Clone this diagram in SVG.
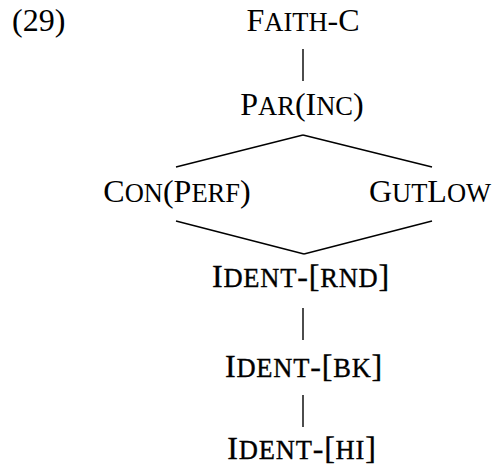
<svg xmlns="http://www.w3.org/2000/svg" width="496" height="468" viewBox="0 0 496 468">
<style>
text{font-family:"Liberation Serif","Times New Roman",serif;font-size:32px;fill:#000}
.c{text-anchor:middle}
.sc{font-size:26.5px}
.id{stroke:#000;stroke-width:0.35;letter-spacing:0.8px}
#edges line{stroke:#000;stroke-width:1.4;fill:none}
</style>
<rect width="496" height="468" fill="#fff"/>
<text x="12" y="31">(29)</text>
<g id="edges">
<line x1="303" y1="49" x2="303" y2="81"/>
<line x1="176" y1="167" x2="303" y2="135"/>
<line x1="303" y1="135" x2="432" y2="167"/>
<line x1="176" y1="221" x2="304" y2="254"/>
<line x1="304" y1="254" x2="432" y2="221"/>
<line x1="303" y1="308" x2="303" y2="340"/>
<line x1="303" y1="395" x2="303" y2="427"/>
</g>
<g id="faith-c"><text class="c" x="303" y="31">F<tspan class="sc">AITH</tspan>-C</text></g>
<g id="par-inc"><text class="c" x="302" y="115">P<tspan class="sc">AR</tspan>(I<tspan class="sc">NC</tspan>)</text></g>
<g id="con-perf"><text class="c" x="177" y="202">C<tspan class="sc">ON</tspan>(P<tspan class="sc">ERF</tspan>)</text></g>
<g id="gutlow"><text class="c" x="430" y="202">G<tspan class="sc">UT</tspan>L<tspan class="sc">OW</tspan></text></g>
<g id="ident-rnd"><text class="c id" x="301" y="287">I<tspan class="sc">DENT</tspan>-[<tspan class="sc">RND</tspan>]</text></g>
<g id="ident-bk"><text class="c id" x="304" y="377">I<tspan class="sc">DENT</tspan>-[<tspan class="sc">BK</tspan>]</text></g>
<g id="ident-hi"><text class="c id" x="302" y="459">I<tspan class="sc">DENT</tspan>-[<tspan class="sc">HI</tspan>]</text></g>
</svg>
